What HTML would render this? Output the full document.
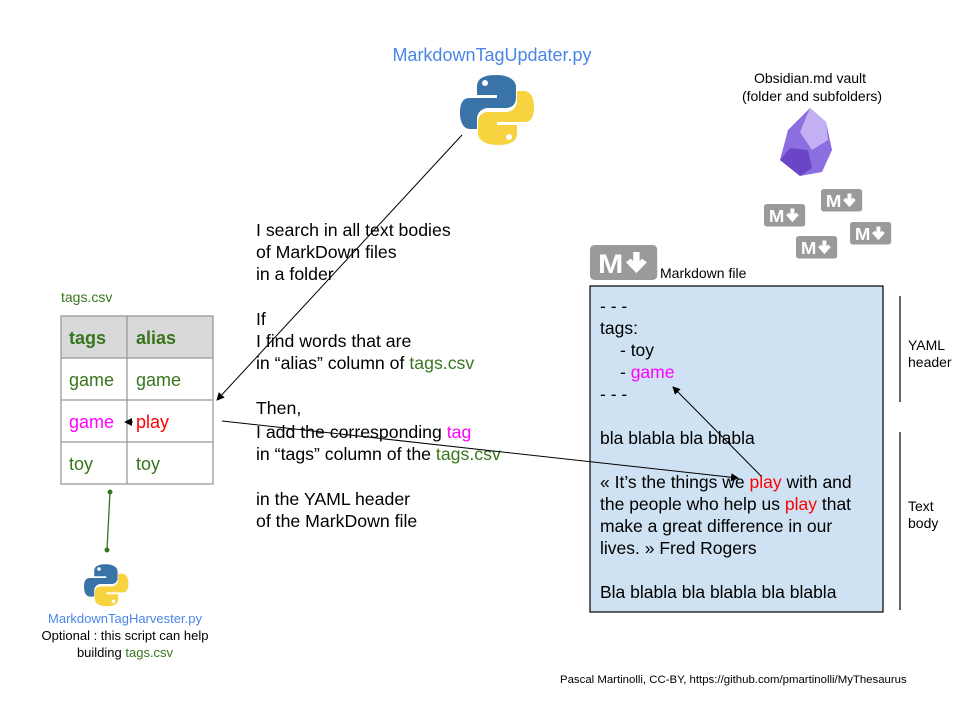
<!DOCTYPE html>
<html><head><meta charset="utf-8"><style>
body{margin:0;background:#fff;}
svg{display:block;font-family:"Liberation Sans",sans-serif;}
</style></head><body>
<svg width="960" height="720" viewBox="0 0 960 720" xmlns="http://www.w3.org/2000/svg">
<defs>
<marker id="ah" markerWidth="8" markerHeight="8" refX="7" refY="4" orient="auto" markerUnits="userSpaceOnUse"><path d="M0,0 L8,4 L0,8 z" fill="#000"/></marker>
<g id="py">
<path d="M36,2 C20,2 17,8 17,14 L17,22 L37,22 L37,25 L9,25 C2,25 0,32 0,40 C0,50 4,56 10,56 L17,56 L17,46 C17,40 22,35 28,35 L46,35 C52,35 56,31 56,25 L56,14 C56,8 50,2 36,2 z" fill="#3a73a8"/>
<path d="M38,72 C54,72 57,66 57,60 L57,52 L37,52 L37,49 L65,49 C72,49 74,42 74,34 C74,24 70,18 64,18 L57,18 L57,28 C57,34 52,39 46,39 L28,39 C22,39 18,43 18,49 L18,60 C18,66 24,72 38,72 z" fill="#f7d33f"/>
<circle cx="25" cy="10" r="3" fill="#fff"/><circle cx="49" cy="64" r="3" fill="#fff"/>
</g>
<g id="md"><rect x="0" y="0" width="42" height="25" rx="3" fill="#9a9a9a"/><text x="5" y="20" font-size="19" font-weight="bold" fill="#fff">M</text><path d="M29,5 v10 M24,11 l5,6 l5,-6" stroke="#fff" stroke-width="4" fill="none"/></g>
</defs>

<text x="492" y="61" font-size="18" fill="#4a86e8" text-anchor="middle">MarkdownTagUpdater.py</text>
<use href="#py" transform="translate(460,73)"/>

<text x="810" y="83" font-size="14" text-anchor="middle">Obsidian.md vault</text>
<text x="812" y="101" font-size="14" text-anchor="middle">(folder and subfolders)</text>
<path d="M810,108 L826,122 L832,150 L822,172 L800,176 L780,160 L788,130 z" fill="#8b6ee0"/>
<path d="M810,108 L826,122 L828,140 L812,150 L800,132 z" fill="#c2b0f2"/>
<path d="M780,160 L800,176 L812,168 L808,150 L790,148 z" fill="#6a45c8"/>
<use href="#md" transform="translate(764,204) scale(0.98,0.9)"/>
<use href="#md" transform="translate(821,189) scale(0.98,0.9)"/>
<use href="#md" transform="translate(796,236) scale(0.98,0.9)"/>
<use href="#md" transform="translate(850,222) scale(0.98,0.9)"/>
<use href="#md" transform="translate(590,245) scale(1.6,1.4)"/>
<text x="660" y="278" font-size="14">Markdown file</text>

<text x="61" y="302" font-size="14" fill="#38761d">tags.csv</text>
<rect x="61" y="316" width="152" height="42" fill="#d9d9d9"/>
<g stroke="#999" stroke-width="1.3" fill="none">
<rect x="61" y="316" width="152" height="168"/>
<path d="M127,316 V484 M61,358 H213 M61,400 H213 M61,442 H213"/>
</g>
<g font-size="18">
<text x="69" y="344" font-weight="bold" fill="#38761d">tags</text>
<text x="136" y="344" font-weight="bold" fill="#38761d">alias</text>
<text x="69" y="386" fill="#38761d">game</text>
<text x="136" y="386" fill="#38761d">game</text>
<text x="69" y="428" fill="#ff00ff">game</text>
<text x="136" y="428" fill="#ff0000">play</text>
<text x="69" y="470" fill="#38761d">toy</text>
<text x="136" y="470" fill="#38761d">toy</text>
</g>
<line x1="133" y1="422" x2="125" y2="422" stroke="#000" marker-end="url(#ah)"/>
<line x1="110" y1="492" x2="107" y2="550" stroke="#38761d" stroke-width="1.3"/>
<circle cx="110" cy="492" r="2.5" fill="#38761d"/><circle cx="107" cy="550" r="2.5" fill="#38761d"/>
<use href="#py" transform="translate(84,563) scale(0.6)"/>
<text x="125" y="623" font-size="13" fill="#4a86e8" text-anchor="middle">MarkdownTagHarvester.py</text>
<text x="125" y="640" font-size="13" text-anchor="middle">Optional : this script can help</text>
<text x="125" y="657" font-size="13" text-anchor="middle">building <tspan fill="#38761d">tags.csv</tspan></text>

<g font-size="17.7">
<text x="256" y="236">I search in all text bodies</text>
<text x="256" y="258">of MarkDown files</text>
<text x="256" y="280">in a folder</text>
<text x="256" y="325">If</text>
<text x="256" y="347">I find words that are</text>
<text x="256" y="369">in “alias” column of <tspan fill="#38761d">tags.csv</tspan></text>
<text x="256" y="414">Then,</text>
<text x="256" y="438">I add the corresponding <tspan fill="#ff00ff">tag</tspan></text>
<text x="256" y="460">in “tags” column of the <tspan fill="#38761d">tags.csv</tspan></text>
<text x="256" y="505">in the YAML header</text>
<text x="256" y="527">of the MarkDown file</text>
</g>

<rect x="590" y="286" width="293" height="326" fill="#cfe2f3" stroke="#000" stroke-width="1.2"/>
<g font-size="17.5">
<text x="600" y="312">- - -</text>
<text x="600" y="334">tags:</text>
<text x="620" y="356">- toy</text>
<text x="620" y="378">- <tspan fill="#ff00ff">game</tspan></text>
<text x="600" y="400">- - -</text>
<text x="600" y="444">bla blabla bla blabla</text>
<text x="600" y="488">« It’s the things we <tspan fill="#ff0000">play</tspan> with and</text>
<text x="600" y="510">the people who help us <tspan fill="#ff0000">play</tspan> that</text>
<text x="600" y="532">make a great difference in our</text>
<text x="600" y="554">lives. » Fred Rogers</text>
<text x="600" y="598">Bla blabla bla blabla bla blabla</text>
</g>

<line x1="462" y1="135" x2="217" y2="400" stroke="#000" marker-end="url(#ah)"/>
<line x1="222" y1="421" x2="738" y2="478" stroke="#000" marker-end="url(#ah)"/>
<line x1="761" y1="476" x2="673" y2="387" stroke="#000" marker-end="url(#ah)"/>

<g stroke="#000" stroke-width="1.2"><line x1="900" y1="296" x2="900" y2="402"/><line x1="900" y1="432" x2="900" y2="610"/></g>
<g font-size="14">
<text x="908" y="350">YAML</text><text x="908" y="367">header</text>
<text x="908" y="511">Text</text><text x="908" y="528">body</text>
</g>
<text x="560" y="683" font-size="11.4">Pascal Martinolli, CC-BY, https://github.com/pmartinolli/MyThesaurus</text>
</svg>
</body></html>
